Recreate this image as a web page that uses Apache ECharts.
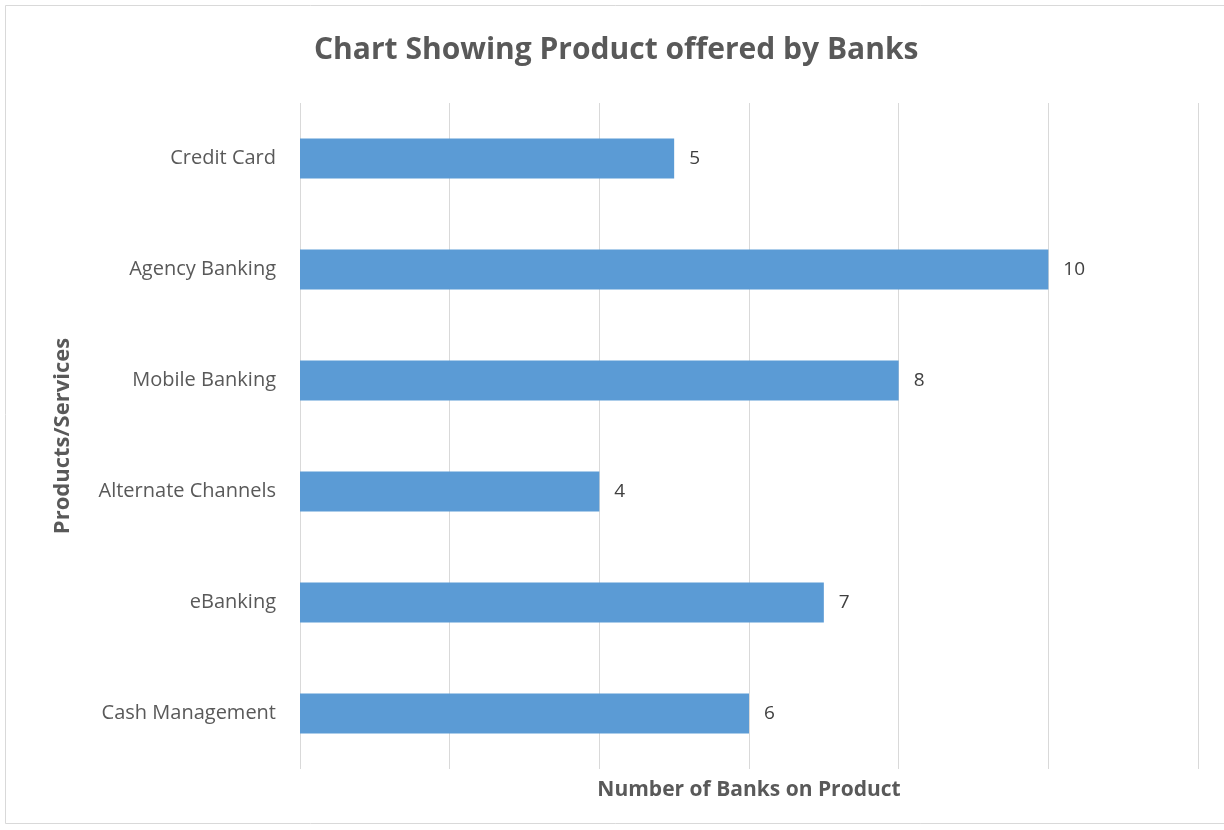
<!DOCTYPE html>
<html><head><meta charset="utf-8">
<script src="https://cdn.jsdelivr.net/npm/echarts@6/dist/echarts.min.js"></script>
<style>html,body{margin:0;padding:0;background:#fff}#c{width:1224px;height:830px}</style>
</head><body><div id="c"></div>
<script>
const categories = ["Cash Management", "eBanking", "Alternate Channels", "Mobile Banking", "Agency Banking", "Credit Card"];
const values = [6, 7, 4, 8, 10, 5];
const chart = echarts.init(document.getElementById('c'));
const F = '"Open Sans"';
chart.setOption({
  backgroundColor: '#fff',
  graphic: [{type:'rect', shape:{x:5.5,y:5.5,width:1240,height:818}, style:{fill:'none', stroke:'#d9d9d9', lineWidth:1}, silent:true}],
  title: {text: 'Chart Showing Product offered by Banks', left: 314, top: 35, padding: 0,
    textStyle: {fontFamily: F, fontSize: 30, fontWeight: 'bold', color: '#595959'}},
  grid: {left: 300, right: 26, top: 103, bottom: 61},
  xAxis: {type: 'value', min: 0, max: 12, interval: 2,
    name: 'Number of Banks on Product', nameLocation: 'middle', nameGap: 11,
    nameTextStyle: {fontFamily: F, fontSize: 21, fontWeight: 'bold', color: '#595959'},
    axisLabel: {show: false}, axisLine: {show: false}, axisTick: {show: false},
    splitLine: {show: true, lineStyle: {color: '#d9d9d9', width: 1}}},
  yAxis: {type: 'category', data: categories,
    name: 'Products/Services', nameLocation: 'middle', nameGap: 226, nameRotate: 90,
    nameTextStyle: {fontFamily: F, fontSize: 22, fontWeight: 'bold', color: '#595959'},
    axisLine: {show: false}, axisTick: {show: false},
    axisLabel: {fontFamily: F, fontSize: 20, color: '#595959', margin: 24}},
  series: [{type: 'bar', data: values, barWidth: 40,
    itemStyle: {color: '#5b9bd5'},
    label: {show: true, position: 'right', distance: 15, fontFamily: F, fontSize: 19, color: '#404040'}}]
});
</script></body></html>
